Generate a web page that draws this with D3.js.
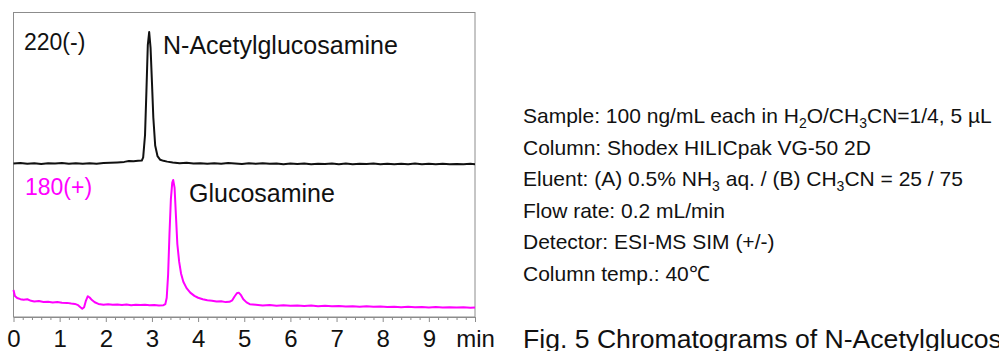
<!DOCTYPE html>
<html>
<head>
<meta charset="utf-8">
<style>
  body { margin: 0; background: #fff; }
  svg { display: block; font-family: "Liberation Sans", Arial, sans-serif; }
</style>
<script src="https://d3js.org/d3.v7.min.js"></script>
</head>
<body>
<div id="chart"></div>
<script>
// retention time ticks (min)
var majorTicks = [0, 1, 2, 3, 4, 5, 6, 7, 8, 9, 10];
var tickLabels = ["0", "1", "2", "3", "4", "5", "6", "7", "8", "9", "min"];

// m/z 220 (-) : N-Acetylglucosamine, [time, relative signal]
var acetylTrace = [
  [0.0, 0.3], [0.15, 0.8], [0.3, 0.2], [0.45, 0.6], [0.6, 0.0], [0.75, 0.5], [0.9, 0.3],
  [1.05, 0.7], [1.2, 0.2], [1.35, 0.6], [1.5, 0.1], [1.65, 0.5], [1.8, 0.2], [1.95, 0.7],
  [2.1, 0.9], [2.25, 1.2], [2.4, 1.6], [2.5, 2.2], [2.6, 2.0], [2.7, 2.4], [2.78, 2.6],
  [2.81, 5], [2.85, 22], [2.88, 55], [2.91, 90], [2.94, 100], [2.97, 88], [3.0, 62],
  [3.03, 35], [3.07, 14], [3.12, 6], [3.18, 3.2], [3.25, 2.4], [3.33, 1.8], [3.45, 1.2],
  [3.6, 0.6], [3.75, 0.9], [3.9, 0.3], [4.05, 0.6], [4.2, 0.1], [4.35, 0.5], [4.5, 0.2],
  [4.65, 0.7], [4.8, 0.3], [4.95, 0.0], [5.1, 0.5], [5.25, 0.2], [5.4, 0.6], [5.55, 0.1],
  [5.7, 0.4], [5.85, -0.1], [6.0, 0.3], [6.15, 0.0], [6.3, 0.4], [6.45, -0.2], [6.6, 0.2],
  [6.75, 0.0], [6.9, 0.4], [7.05, -0.1], [7.2, 0.3], [7.35, -0.2], [7.5, 0.2], [7.65, 0.0],
  [7.8, 0.4], [7.95, -0.1], [8.1, 0.2], [8.25, -0.2], [8.4, 0.1], [8.55, -0.1], [8.7, 0.3],
  [8.85, -0.2], [9.0, 0.1], [9.15, -0.1], [9.3, 0.2], [9.45, -0.2], [9.6, 0.0], [9.75, -0.1],
  [9.9, 0.1], [10.0, -0.1]
];

// m/z 180 (+) : Glucosamine, [time, relative signal]
var glucoTrace = [
  [0.0, 14], [0.03, 9.4], [0.08, 7.8], [0.15, 6.9], [0.22, 6.4], [0.3, 6.8], [0.38, 5.6],
  [0.45, 5.1], [0.55, 5.4], [0.65, 4.7], [0.75, 4.9], [0.85, 4.3], [0.95, 4.6], [1.05, 4.1],
  [1.16, 4.0], [1.25, 3.5], [1.33, 3.2], [1.4, 2.2], [1.45, 0.6], [1.49, -0.6], [1.53, 0.6],
  [1.57, 5.8], [1.61, 9.2], [1.65, 8.2], [1.7, 6.2], [1.76, 4.5], [1.84, 3.2], [1.95, 2.6],
  [2.05, 3.0], [2.15, 2.5], [2.25, 2.8], [2.35, 2.3], [2.45, 2.7], [2.55, 2.2], [2.65, 2.6],
  [2.75, 2.3], [2.85, 2.5], [2.95, 2.1], [3.05, 2.4], [3.15, 2.0], [3.25, 2.2], [3.29, 3.0],
  [3.32, 8], [3.35, 26], [3.38, 58], [3.41, 85], [3.44, 98], [3.46, 100], [3.49, 94],
  [3.52, 72], [3.55, 50], [3.59, 36], [3.63, 27], [3.68, 20.5], [3.75, 15.5], [3.83, 12],
  [3.92, 9.5], [4.0, 8.0], [4.1, 6.8], [4.2, 6.0], [4.3, 5.7], [4.4, 5.0], [4.5, 5.2],
  [4.6, 4.6], [4.68, 4.8], [4.74, 6.0], [4.79, 9.0], [4.84, 11.5], [4.88, 12], [4.93, 10],
  [4.98, 6.8], [5.05, 4.4], [5.12, 3.0], [5.25, 2.5], [5.4, 2.0], [5.55, 2.3], [5.7, 1.8],
  [5.85, 2.1], [6.0, 1.7], [6.15, 2.0], [6.3, 1.5], [6.45, 1.9], [6.6, 1.4], [6.75, 1.7],
  [6.9, 1.3], [7.05, 1.6], [7.2, 1.1], [7.35, 1.4], [7.5, 1.0], [7.65, 1.3], [7.8, 0.9],
  [7.95, 1.2], [8.1, 0.7], [8.25, 1.0], [8.4, 0.6], [8.55, 0.9], [8.7, 0.5], [8.85, 0.8],
  [9.0, 0.4], [9.15, 0.7], [9.3, 0.3], [9.45, 0.6], [9.6, 0.3], [9.75, 0.5], [9.9, 0.2],
  [10.0, 0.4]
];

// analysis conditions, {n} = subscript
var conditions = [
  "Sample: 100 ng/mL each in H{2}O/CH{3}CN=1/4, 5 \u00b5L",
  "Column: Shodex HILICpak VG-50 2D",
  "Eluent: (A) 0.5% NH{3} aq. / (B) CH{3}CN = 25 / 75",
  "Flow rate: 0.2 mL/min",
  "Detector: ESI-MS SIM (+/-)",
  "Column temp.: 40\u2103"
];
var caption = "Fig. 5 Chromatograms of N-Acetylglucosamine and Glucosamine";

var width = 999, height = 351;

var svg = d3.select("#chart").append("svg")
  .attr("width", width)
  .attr("height", height);

var x = d3.scaleLinear().domain([0, 10]).range([13.5, 475]);
var yTop = d3.scaleLinear().domain([0, 100]).range([164, 32]);
var yBot = d3.scaleLinear().domain([0, 100]).range([308, 180]);

// frame
svg.append("rect")
  .attr("x", 13.5).attr("y", 12.5)
  .attr("width", 461.5).attr("height", 304.5)
  .attr("fill", "none")
  .attr("stroke", "#8c8c8c")
  .attr("stroke-width", 1);

// minor ticks every 0.2 min
var minorTicks = d3.range(1, 50).map(function(i) { return i / 5; })
  .filter(function(d) { return Math.abs(d - Math.round(d)) > 1e-6; });

svg.append("g")
  .attr("transform", "translate(0,317)")
  .call(d3.axisBottom(x).tickValues(minorTicks).tickSize(3).tickSizeOuter(0).tickFormat(""))
  .call(function(g) {
    g.select(".domain").attr("stroke", "#8c8c8c");
    g.selectAll(".tick line").attr("stroke", "#8c8c8c");
  });

svg.append("g")
  .attr("transform", "translate(0,317)")
  .call(d3.axisBottom(x).tickValues(majorTicks).tickSize(5).tickSizeOuter(0).tickPadding(8)
    .tickFormat(function(d, i) { return tickLabels[i]; }))
  .call(function(g) {
    g.select(".domain").remove();
    g.selectAll(".tick line").attr("stroke", "#8c8c8c");
    g.selectAll(".tick text")
      .attr("font-family", "'Liberation Sans', Arial, sans-serif")
      .attr("font-size", 24)
      .attr("fill", "#111");
  });

// traces
var lineTop = d3.line().x(function(d) { return x(d[0]); }).y(function(d) { return yTop(d[1]); });
var lineBot = d3.line().x(function(d) { return x(d[0]); }).y(function(d) { return yBot(d[1]); });

svg.append("path")
  .datum(acetylTrace)
  .attr("d", lineTop)
  .attr("fill", "none")
  .attr("stroke", "#111")
  .attr("stroke-width", 2)
  .attr("stroke-linejoin", "round");

svg.append("path")
  .datum(glucoTrace)
  .attr("d", lineBot)
  .attr("fill", "none")
  .attr("stroke", "#ff00ff")
  .attr("stroke-width", 2)
  .attr("stroke-linejoin", "round");

// trace labels
svg.append("text").attr("x", 24).attr("y", 50)
  .attr("font-size", 23).attr("fill", "#111").text("220(-)");
svg.append("text").attr("x", 163).attr("y", 54)
  .attr("font-size", 25).attr("fill", "#111").text("N-Acetylglucosamine");
svg.append("text").attr("x", 25).attr("y", 195)
  .attr("font-size", 23).attr("fill", "#ff00ff").text("180(+)");
svg.append("text").attr("x", 189).attr("y", 202)
  .attr("font-size", 25).attr("fill", "#111").text("Glucosamine");

// conditions block
var cond = svg.append("g").attr("font-size", 21).attr("fill", "#111");
conditions.forEach(function(line, i) {
  var t = cond.append("text").attr("x", 523).attr("y", 123 + i * 31.6);
  var shift = 0;
  line.split(/(\{[^}]*\})/).forEach(function(part) {
    if (!part) return;
    if (part[0] === "{") {
      t.append("tspan").attr("font-size", 14).attr("dy", 5).text(part.slice(1, -1));
      shift = -5;
    } else {
      t.append("tspan").attr("dy", shift).text(part);
      shift = 0;
    }
  });
});

svg.append("text").attr("x", 523).attr("y", 348)
  .attr("font-size", 26.6).attr("fill", "#111").text(caption);
</script>
</body>
</html>
